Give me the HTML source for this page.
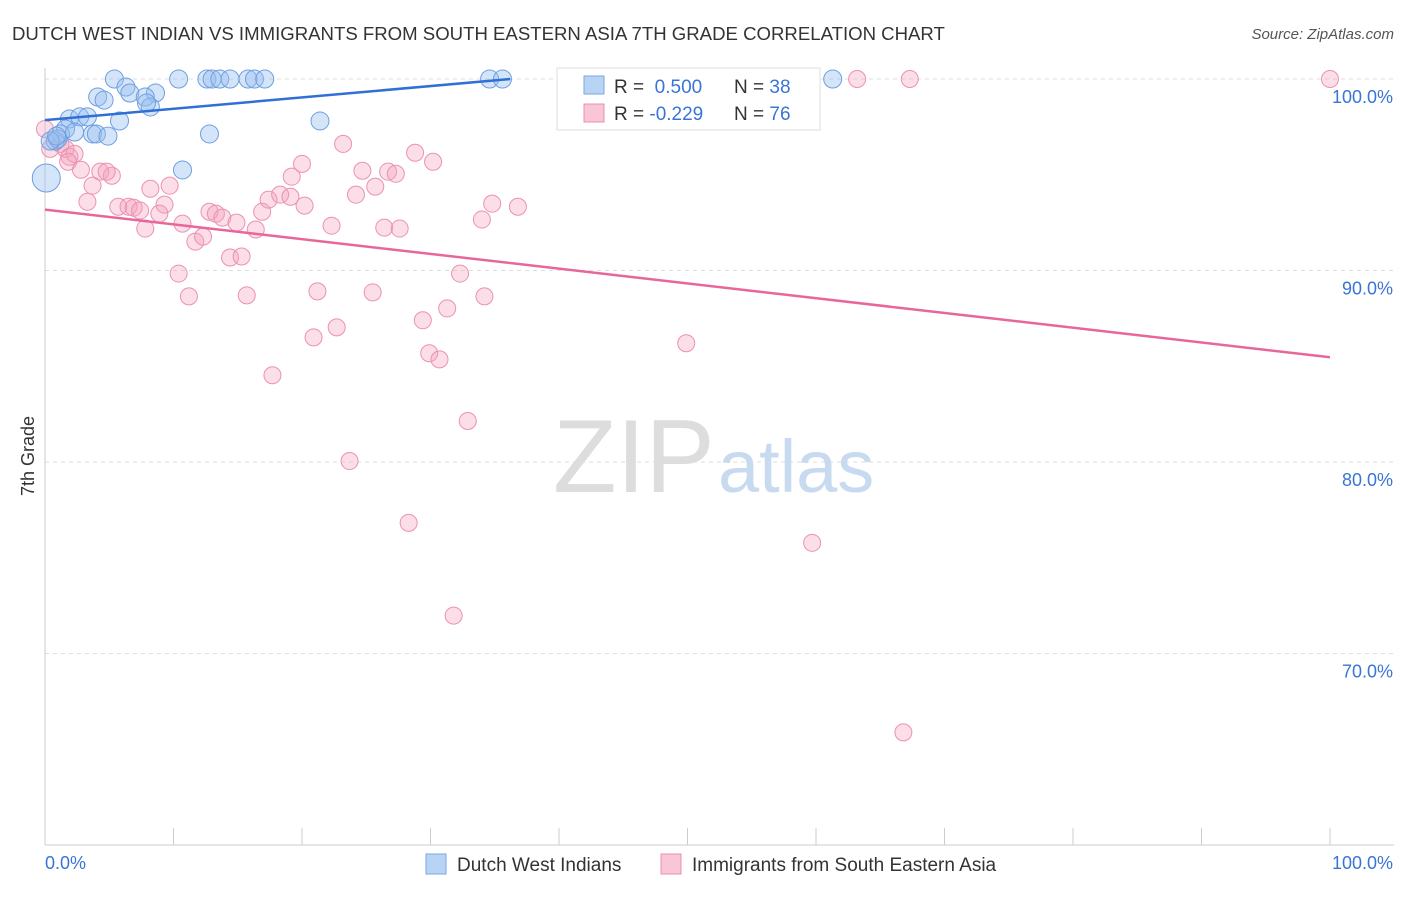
<!DOCTYPE html>
<html><head><meta charset="utf-8"><style>
body{margin:0;background:#fff;font-family:"Liberation Sans",sans-serif;}
svg text{font-family:"Liberation Sans",sans-serif;}
</style></head><body>
<svg width="1406" height="892">
<text x="12" y="40" font-size="18.6" fill="#333">DUTCH WEST INDIAN VS IMMIGRANTS FROM SOUTH EASTERN ASIA 7TH GRADE CORRELATION CHART</text>
<text x="1394" y="39" font-size="15" fill="#555" text-anchor="end" font-style="italic">Source: ZipAtlas.com</text>
<g id="grid"></g>
<g id="axes"></g>
<text x="553" y="492" font-size="104" fill="#ddd" font-family="Liberation Serif">ZIP</text>
<text x="718" y="492" font-size="74" fill="#c8daf0">atlas</text>
<g id="pts"></g>
<g id="lines"></g>
<text x="34" y="456" font-size="18" fill="#333" text-anchor="middle" transform="rotate(-90 34 456)">7th Grade</text>
<g>
<rect x="557" y="68" width="263" height="62" fill="#fff" stroke="#ddd"/>
<rect x="584" y="76" width="20" height="18" fill="#b8d4f5" stroke="#7aa7e0"/>
<rect x="584" y="104" width="20" height="18" fill="#f8c6d6" stroke="#e890ae"/>
<text x="614" y="93" font-size="19" fill="#333">R = <tspan fill="#3a74d6">&#160;0.500</tspan><tspan x="734">N = </tspan><tspan fill="#3a74d6">38</tspan></text>
<text x="614" y="120" font-size="19" fill="#333">R = <tspan fill="#3a74d6">-0.229</tspan><tspan x="734">N = </tspan><tspan fill="#3a74d6">76</tspan></text>
</g>
<g>
<rect x="426" y="854" width="20" height="20" fill="#b8d4f5" stroke="#7aa7e0"/>
<text x="457" y="871" font-size="19" fill="#333">Dutch West Indians</text>
<rect x="661" y="854" width="20" height="20" fill="#f8c6d6" stroke="#e890ae"/>
<text x="692" y="871" font-size="19" fill="#333">Immigrants from South Eastern Asia</text>
</g>
</svg>
<script>
const yTicks=[100,90,80,70];
const yTickLabels=["100.0%","90.0%","80.0%","70.0%"];
const xTickLabels=["0.0%","100.0%"];
const blueX=[5.4,10.4,12.6,13,13.6,14.4,15.8,16.3,17.1,34.6,35.6,61.3,4.1,6.3,6.6,8.6,4.6,7.8,8.2,1.9,2.7,3.3,5.8,1.6,1.2,2.3,3.7,4,4.9,0.8,1,12.8,21.4,10.7,0.1,0.4,0.9,7.9];
const blueY=[100,100,100,100,100,100,100,100,100,100,100,100,99.06,99.58,99.27,99.27,98.9,99.06,98.54,97.91,98.02,98.02,97.81,97.39,97.13,97.23,97.13,97.13,97.02,96.76,96.87,97.13,97.81,95.25,94.83,96.76,97.02,98.75];
const blueR=[9,9,9,9,9,9,9,9,9,9,9,9,9,9,9,9,9,9,9,9,9,9,9,9,9,9,9,9,9,9,9,9,9,9,14,9,9,9];
const pinkX=[100,63.2,67.3,0,0.4,1.2,1.6,1.9,2.3,1.8,2.8,4.3,5.2,4.8,3.7,3.3,5.7,6.5,6.9,7.4,8.2,9.3,9.7,8.9,7.8,10.7,11.7,12.3,10.4,11.2,12.8,13.3,13.8,14.9,14.4,15.3,15.7,16.4,16.9,17.4,18.3,19.1,19.2,20,20.2,22.3,21.2,20.9,22.7,23.2,24.2,24.7,25.7,26.4,26.7,27.3,27.6,25.5,17.7,23.7,28.3,28.8,30.2,29.4,29.9,30.7,31.3,32.3,32.9,34,34.2,34.8,36.8,31.8,49.9,59.7,66.8];
const pinkY=[100,100,100,97.39,96.35,96.61,96.35,95.94,96.09,95.68,95.26,95.16,94.95,95.16,94.43,93.59,93.33,93.33,93.28,93.13,94.27,93.44,94.43,92.97,92.19,92.45,91.51,91.77,89.84,88.65,93.07,92.97,92.76,92.5,90.68,90.73,88.7,92.14,93.07,93.7,93.96,93.85,94.9,95.57,93.39,92.34,88.91,86.51,87.03,96.61,93.96,95.21,94.38,92.24,95.16,95.05,92.19,88.86,84.53,80.05,76.82,96.15,95.68,87.4,85.68,85.36,88.02,89.84,82.14,92.66,88.65,93.49,93.33,71.98,86.2,75.78,65.88];
const blueTrend=[[0,97.85],[36.2,100]];
const pinkTrend=[[0,93.18],[100,85.47]];
const NS="http://www.w3.org/2000/svg";
const X=v=>45+v*12.85, Y=v=>79+(100-v)*19.15;
function mk(t,a,p){const e=document.createElementNS(NS,t);for(const k in a)e.setAttribute(k,a[k]);p.appendChild(e);return e;}
const grid=document.getElementById('grid'),axes=document.getElementById('axes');
yTicks.forEach((t,i)=>{
 const l=mk('line',{x1:45,x2:1394,y1:Y(t),y2:Y(t),stroke:'#ddd','stroke-dasharray':'4,4'},grid);
 
 
 const tx=mk('text',{x:1393,y:Y(t)+24,'font-size':18,fill:'#3a74d6','text-anchor':'end'},axes);
 tx.textContent=yTickLabels[i];
 
 
});
mk('line',{x1:45,x2:45,y1:68,y2:845,stroke:'#ccc'},axes);
mk('line',{x1:45,x2:1394,y1:845,y2:845,stroke:'#ccc'},axes);
for(let i=0;i<=10;i++){mk('line',{x1:X(i*10),x2:X(i*10),y1:828,y2:845,stroke:'#ccc'},axes);}
const xl0=mk('text',{x:45,y:869,'font-size':18,fill:'#3a74d6'},axes);xl0.textContent=xTickLabels[0];


const xl1=mk('text',{x:1393,y:869,'font-size':18,fill:'#3a74d6','text-anchor':'end'},axes);xl1.textContent=xTickLabels[1];


const pts=document.getElementById('pts');
pinkX.forEach((x,i)=>{const c=mk('circle',{cx:X(x),cy:Y(pinkY[i]),r:8.5,fill:'rgba(244,160,190,0.35)',stroke:'#eb92b1','stroke-width':1},pts);
 
 });
blueX.forEach((x,i)=>{const c=mk('circle',{cx:X(x),cy:Y(blueY[i]),r:blueR[i],fill:'rgba(150,190,240,0.4)',stroke:'#6e9fe0','stroke-width':1},pts);
 
 });
const lines=document.getElementById('lines');
const bl=mk('line',{x1:X(blueTrend[0][0]),y1:Y(blueTrend[0][1]),x2:X(blueTrend[1][0]),y2:Y(blueTrend[1][1]),stroke:'#2f6fd6','stroke-width':2.5},lines);


const pl=mk('line',{x1:X(pinkTrend[0][0]),y1:Y(pinkTrend[0][1]),x2:X(pinkTrend[1][0]),y2:Y(pinkTrend[1][1]),stroke:'#e8679a','stroke-width':2.5},lines);


</script>
</body></html>
